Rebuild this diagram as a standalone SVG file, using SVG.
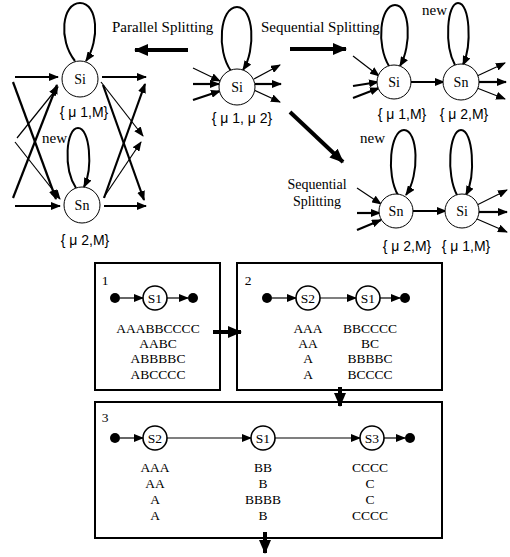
<svg xmlns="http://www.w3.org/2000/svg" width="510" height="557" viewBox="0 0 510 557">
<style>
.t{font-family:"Liberation Serif","Times New Roman",serif;font-size:15px;fill:#000}
.t2{font-family:"Liberation Serif","Times New Roman",serif;font-size:14px;fill:#000;text-anchor:middle}
.n{font-family:"Liberation Serif","Times New Roman",serif;font-size:14px;fill:#000;text-anchor:middle}
.lb{font-family:"Liberation Sans",Arial,sans-serif;font-size:14px;fill:#000;text-anchor:middle}
.s{font-family:"Liberation Serif","Times New Roman",serif;font-size:13.5px;fill:#000;text-anchor:middle}
.c{fill:#fff;stroke:#000;stroke-width:1}
.c2{fill:#fff;stroke:#000;stroke-width:1.6}
.lp{fill:none;stroke:#000;stroke-width:2;marker-end:url(#ah)}
.a1{fill:none;stroke:#000;stroke-width:1.2;marker-end:url(#ah)}
.a2{fill:none;stroke:#000;stroke-width:2.2;marker-end:url(#ah)}
.a3{fill:none;stroke:#000;stroke-width:4;marker-end:url(#ahb)}
.box{fill:none;stroke:#000;stroke-width:2}
.dot{fill:#000}
</style>
<defs>
<marker id="ah" markerUnits="userSpaceOnUse" markerWidth="10" markerHeight="8" refX="9" refY="4" orient="auto"><path d="M0,0 L10,4 L0,8 z" fill="#000"/></marker>
<marker id="ahb" markerUnits="userSpaceOnUse" markerWidth="14" markerHeight="12" refX="13" refY="6" orient="auto"><path d="M0,0 L14,6 L0,12 z" fill="#000"/></marker>
</defs>

<g id="connectors">
<path class="lp" d="M75,61 C58,40 62,3 80,3 C98,3 100,40 86,61"/>
<path class="lp" d="M76,188 C63,168 66,128 78,128 C90,128 93,168 84,187"/>
<line class="a2" x1="15" y1="77" x2="58" y2="77"/>
<line class="a2" x1="15" y1="206" x2="60" y2="206"/>
<line class="a2" x1="13" y1="82" x2="56" y2="199"/>
<line class="a2" x1="13" y1="198" x2="57" y2="85"/>
<line class="a1" x1="17" y1="138" x2="58" y2="87"/>
<line class="a1" x1="15" y1="142" x2="60" y2="199"/>
<line class="a2" x1="102" y1="77" x2="146" y2="77"/>
<line class="a1" x1="101" y1="82" x2="143" y2="136"/>
<line class="a2" x1="103" y1="85" x2="144" y2="200"/>
<line class="a2" x1="104" y1="198" x2="145" y2="84"/>
<line class="a1" x1="104" y1="197" x2="141" y2="142"/>
<line class="a2" x1="104" y1="206" x2="146" y2="206"/>
<line class="a3" x1="188" y1="50" x2="135" y2="50"/>
<line class="a3" x1="290" y1="49" x2="346" y2="49"/>
<line class="a3" x1="290" y1="112" x2="343" y2="162"/>
<path class="lp" d="M231,71 C216,50 220,7 237,7 C254,7 256,50 243,70"/>
<line class="a1" x1="193" y1="68" x2="220" y2="81"/>
<line class="a2" x1="193" y1="84" x2="219" y2="84"/>
<line class="a2" x1="193" y1="100" x2="220" y2="91"/>
<line class="a1" x1="254" y1="79" x2="280" y2="65"/>
<line class="a2" x1="255" y1="84" x2="281" y2="84"/>
<line class="a1" x1="254" y1="90" x2="280" y2="102"/>
<path class="lp" d="M389,66 C376,45 380,5 395,5 C410,5 412,45 400,66"/>
<path class="lp" d="M455,65 C444,45 447,3 458,3 C470,3 472,45 463,65"/>
<line class="a1" x1="353" y1="56" x2="379" y2="76"/>
<line class="a2" x1="353" y1="86" x2="378" y2="82"/>
<line class="a2" x1="353" y1="98" x2="379" y2="88"/>
<line class="a2" x1="411" y1="82" x2="444" y2="82"/>
<line class="a1" x1="477" y1="76" x2="505" y2="63"/>
<line class="a2" x1="479" y1="82" x2="506" y2="82"/>
<line class="a1" x1="477" y1="88" x2="505" y2="99"/>
<path class="lp" d="M398,195 C386,175 390,130 404,130 C418,130 420,175 406,195"/>
<path class="lp" d="M457,195 C446,175 449,130 461,130 C473,130 476,175 466,195"/>
<line class="a1" x1="357" y1="188" x2="381" y2="204"/>
<line class="a2" x1="357" y1="213" x2="380" y2="213"/>
<line class="a2" x1="357" y1="230" x2="381" y2="220"/>
<line class="a2" x1="412" y1="211" x2="446" y2="211"/>
<line class="a1" x1="477" y1="205" x2="507" y2="190"/>
<line class="a2" x1="479" y1="212" x2="507" y2="212"/>
<line class="a1" x1="477" y1="219" x2="507" y2="232"/>
<line class="a1" x1="120" y1="298" x2="143" y2="298"/>
<line class="a1" x1="167" y1="298" x2="188" y2="298"/>
<line class="a1" x1="272" y1="298" x2="296" y2="298"/>
<line class="a1" x1="320" y1="298" x2="356" y2="298"/>
<line class="a1" x1="380" y1="298" x2="400" y2="298"/>
<line class="a3" x1="213" y1="332" x2="241" y2="332"/>
<line class="a3" x1="340" y1="387" x2="340" y2="406"/>
<line class="a1" x1="120" y1="438" x2="143" y2="438"/>
<line class="a1" x1="167" y1="438" x2="251" y2="438"/>
<line class="a1" x1="275" y1="438" x2="360" y2="438"/>
<line class="a1" x1="384" y1="438" x2="405" y2="438"/>
<line class="a3" x1="265" y1="532" x2="265" y2="553"/>
</g>

<text class="t" x="112" y="32">Parallel Splitting</text>
<text class="t" x="261" y="32">Sequential Splitting</text>
<text class="t2" x="317" y="189">Sequential</text>
<text class="t2" x="317" y="206">Splitting</text>

<g id="L-Si"><circle class="c" cx="80" cy="79" r="18"/><text class="n" x="80" y="84">Si</text><text class="lb" x="84" y="117">{ μ 1,M}</text></g>
<g id="L-Sn"><circle class="c" cx="82" cy="205" r="18"/><text class="n" x="82" y="210">Sn</text><text class="lb" x="85" y="245">{ μ 2,M}</text><text class="t" x="42" y="143">new</text></g>
<g id="M-Si"><circle class="c" cx="237" cy="87" r="18"/><text class="n" x="237" y="92">Si</text><text class="lb" x="242" y="123">{ μ 1, μ 2}</text></g>
<g id="TR-Si"><circle class="c" cx="394" cy="82" r="17"/><text class="n" x="394" y="87">Si</text><text class="lb" x="402" y="119">{ μ 1,M}</text></g>
<g id="TR-Sn"><circle class="c" cx="461" cy="82" r="18"/><text class="n" x="461" y="87">Sn</text><text class="lb" x="464" y="119">{ μ 2,M}</text><text class="t" x="422" y="15">new</text></g>
<g id="BR-Sn"><circle class="c" cx="396" cy="211" r="17"/><text class="n" x="396" y="216">Sn</text><text class="lb" x="407" y="251">{ μ 2,M}</text><text class="t" x="360" y="143">new</text></g>
<g id="BR-Si"><circle class="c" cx="462" cy="211" r="17"/><text class="n" x="462" y="216">Si</text><text class="lb" x="466" y="251">{ μ 1,M}</text></g>

<g id="box1">
<rect class="box" x="95" y="263" width="125" height="127"/>
<text class="s" x="105" y="285">1</text>
<circle class="dot" cx="115" cy="298" r="5"/>
<circle class="c2" cx="155" cy="298" r="12"/><text class="s" x="155" y="303">S1</text>
<circle class="dot" cx="193" cy="298" r="5"/>
<text class="s" x="158" y="333">AAABBCCCC</text>
<text class="s" x="158" y="348">AABC</text>
<text class="s" x="158" y="363">ABBBBC</text>
<text class="s" x="158" y="379">ABCCCC</text>
</g>
<g id="box2">
<rect class="box" x="237" y="263" width="205" height="127"/>
<text class="s" x="248" y="285">2</text>
<circle class="dot" cx="267" cy="298" r="5"/>
<circle class="c2" cx="308" cy="298" r="12"/><text class="s" x="308" y="303">S2</text>
<circle class="c2" cx="368" cy="298" r="12"/><text class="s" x="368" y="303">S1</text>
<circle class="dot" cx="405" cy="298" r="5"/>
<text class="s" x="308" y="333">AAA</text>
<text class="s" x="308" y="348">AA</text>
<text class="s" x="308" y="363">A</text>
<text class="s" x="308" y="379">A</text>
<text class="s" x="370" y="333">BBCCCC</text>
<text class="s" x="370" y="348">BC</text>
<text class="s" x="370" y="363">BBBBC</text>
<text class="s" x="370" y="379">BCCCC</text>
</g>
<g id="box3">
<rect class="box" x="95" y="402" width="347" height="136"/>
<text class="s" x="105" y="422">3</text>
<circle class="dot" cx="115" cy="438" r="5"/>
<circle class="c2" cx="155" cy="438" r="12"/><text class="s" x="155" y="443">S2</text>
<circle class="c2" cx="263" cy="438" r="12"/><text class="s" x="263" y="443">S1</text>
<circle class="c2" cx="372" cy="438" r="12"/><text class="s" x="372" y="443">S3</text>
<circle class="dot" cx="410" cy="438" r="5"/>
<text class="s" x="155" y="472">AAA</text>
<text class="s" x="155" y="488">AA</text>
<text class="s" x="155" y="504">A</text>
<text class="s" x="155" y="520">A</text>
<text class="s" x="263" y="472">BB</text>
<text class="s" x="263" y="488">B</text>
<text class="s" x="263" y="504">BBBB</text>
<text class="s" x="263" y="520">B</text>
<text class="s" x="370" y="472">CCCC</text>
<text class="s" x="370" y="488">C</text>
<text class="s" x="370" y="504">C</text>
<text class="s" x="370" y="520">CCCC</text>
</g>
</svg>
